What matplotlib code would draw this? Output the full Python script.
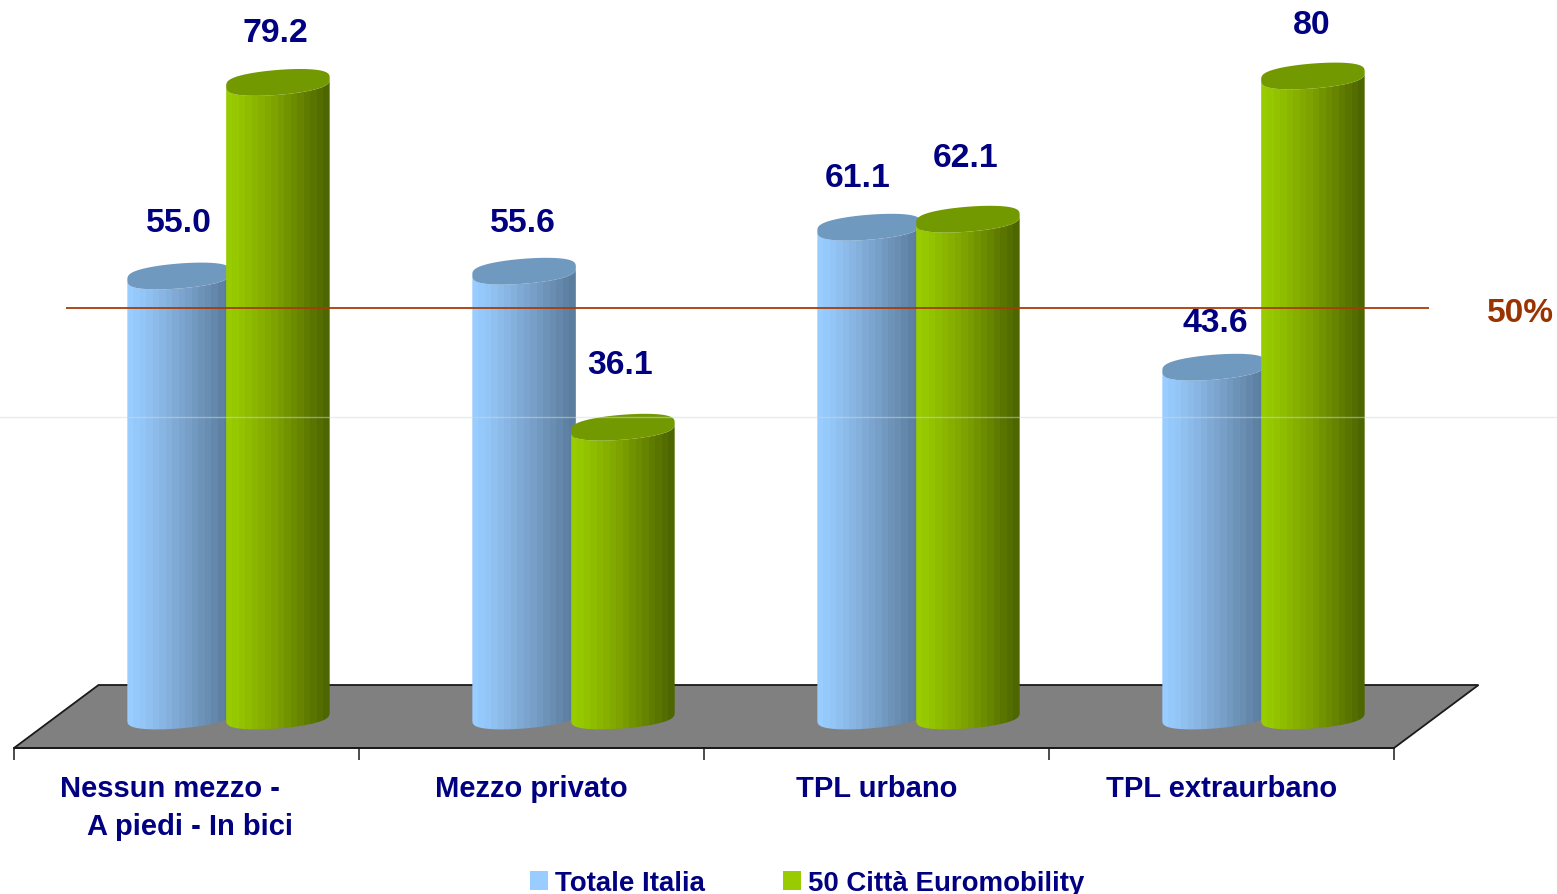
import numpy as np
import matplotlib
matplotlib.use("Agg")
import matplotlib.pyplot as plt
from matplotlib.colors import LinearSegmentedColormap
from matplotlib.patches import Polygon, Patch

categories = ["Nessun mezzo -\u00a0\u00a0\u00a0\u00a0\n A piedi - In bici", "Mezzo privato", "TPL urbano", "TPL extraurbano"]
series_names = ["Totale Italia", "50 Città Euromobility"]
totale_italia = [55.0, 55.6, 61.1, 43.6]
citta_euromobility = [79.2, 36.1, 62.1, 80]
label_totale = ["55.0", "55.6", "61.1", "43.6"]
label_citta = ["79.2", "36.1", "62.1", "80"]
reference_value = 50
reference_label = "50%"

plt.rcParams["font.family"] = ["Liberation Sans", "DejaVu Sans"]
W, H, DPI = 1557, 895, 100
PX_X = 345.0      # pixels per category
PX_Y = 8.0        # pixels per value unit
X0, Y0 = 186.5, 717.0
NAVY = "#000080"
RUST = "#993300"
FS = 21.0

fig = plt.figure(figsize=(W / DPI, H / DPI), dpi=DPI, facecolor="white")
ax = fig.add_axes([0, 0, 1, 1])
xlim = (-X0 / PX_X, (W - X0) / PX_X)
ylim = ((Y0 - H) / PX_Y, Y0 / PX_Y)
ax.set_xlim(xlim)
ax.set_ylim(ylim)
ax.set_facecolor("white")

# floor of the 3-D plot
FRONT, BACK, SKEW = -4.0, 3.875, 0.245
floor = Polygon([(-0.5, FRONT), (3.5, FRONT), (3.5 + SKEW, BACK), (-0.5 + SKEW, BACK)],
                closed=True, facecolor="#808080", edgecolor="#1a1a1a", lw=1.3, zorder=1)
ax.add_patch(floor)

# axis on the front edge of the floor
for side in ("top", "left", "right"):
    ax.spines[side].set_visible(False)
ax.spines["bottom"].set_position(("data", FRONT))
ax.spines["bottom"].set_bounds(-0.5, 3.5)
ax.spines["bottom"].set_linewidth(1.3)
ax.spines["bottom"].set_color("#1a1a1a")
ax.spines["bottom"].set_zorder(2)
ax.set_yticks([])
ax.set_xticks(np.arange(5) - 0.5)
ax.set_xticklabels([])
ax.set_xticks(np.arange(4), minor=True)
ax.set_xticklabels(categories, minor=True, color=NAVY, fontsize=FS, fontweight="bold", linespacing=1.45)
ax.tick_params(axis="x", which="major", length=8.6, width=1.1, color="#1a1a1a")
ax.tick_params(axis="x", which="minor", length=0, pad=18.5)

RX = 0.15
RY = 1.56
TILT = 0.5
CAP_POWER = 0.65
t_low = np.linspace(np.pi, 2 * np.pi, 80)
t_all = np.linspace(0, 2 * np.pi, 240)


def ellipse(cx, cy, t):
    s = np.sign(np.sin(t)) * np.abs(np.sin(t)) ** CAP_POWER
    return np.column_stack([cx + RX * np.cos(t), cy + RY * s + TILT * np.cos(t)])


def cylinder(cx, value, cmap, cap_color, z):
    bottom = ellipse(cx, 0, t_low)
    top = ellipse(cx, value, t_low[::-1])
    body = Polygon(np.vstack([bottom, top]), closed=True, facecolor="none", edgecolor="none",
                   transform=ax.transData)
    ax.add_patch(body)
    grad = np.linspace(0, 1, 16)[None, :]
    im = ax.imshow(grad, extent=(cx - RX, cx + RX, -3, value + 3), cmap=cmap, aspect="auto",
                   origin="lower", zorder=z, interpolation="nearest")
    im.set_clip_path(body)
    ax.add_patch(Polygon(ellipse(cx, value, t_all), closed=True, facecolor=cap_color,
                         edgecolor="none", zorder=z + 0.1))


blue_map = LinearSegmentedColormap.from_list(
    "b", [(0, "#99ccff"), (0.12, "#95c7f9"), (0.5, "#7ea8d2"), (1, "#5b7d9e")])
green_map = LinearSegmentedColormap.from_list(
    "g", [(0, "#99cc00"), (0.12, "#94c500"), (0.5, "#7c9f00"), (1, "#4d6600")])
BLUE_DX, GREEN_DX = -0.0215, 0.265

# label offsets from the bar top, pixels (x, y)
nudge_totale = [(0, 54), (-1, 49), (-11, 50), (1, 45)]
nudge_citta = [(-3, 50), (-3, 63), (-2, 62), (-1, 51)]

for i in range(4):
    cylinder(i + BLUE_DX, totale_italia[i], blue_map, "#6f99bf", 3 + i)
    cylinder(i + GREEN_DX, citta_euromobility[i], green_map, "#739900", 3.5 + i)
    for cx, v, txt, nd in ((i + BLUE_DX, totale_italia[i], label_totale[i], nudge_totale[i]),
                           (i + GREEN_DX, citta_euromobility[i], label_citta[i], nudge_citta[i])):
        ax.annotate(txt, (cx, v), xytext=(nd[0] * 0.72, nd[1] * 0.72), textcoords="offset points",
                    ha="center", va="center", color=NAVY, fontsize=24.3, fontweight="bold", zorder=12)

ax.set_xlim(xlim)
ax.set_ylim(ylim)

# reference line, drawn on the back wall of the 3-D plot
DEPTH = 1.0
ax.plot([-0.35, 3.6], [reference_value + DEPTH] * 2, color="#a83c08", lw=1.3, zorder=15, solid_capstyle="butt")
ax.annotate(reference_label, (3.6, reference_value + DEPTH), xytext=(92 * 0.72, -5 * 0.72), textcoords="offset points",
            ha="center", va="center", color=RUST, fontsize=24, fontweight="bold", zorder=15)

# faint scan line present in the source image
ax.axhline((Y0 - 417.5) / PX_Y, color="#cfdad7", lw=1, alpha=0.5, zorder=16)

handles = [Patch(facecolor="#99ccff", edgecolor="none"), Patch(facecolor="#99cc00", edgecolor="none")]
leg = ax.legend(handles, series_names, loc="center", bbox_to_anchor=(807.5 / W, 1 - 884 / H),
                bbox_transform=fig.transFigure, ncol=2, frameon=False, prop={"size": 19.9, "weight": "bold"},
                handlelength=0.65, handleheight=0.65, handletextpad=0.26, columnspacing=2.82,
                labelcolor=NAVY, borderpad=0, borderaxespad=0)

fig.savefig("out.png", dpi=DPI, facecolor="white")
